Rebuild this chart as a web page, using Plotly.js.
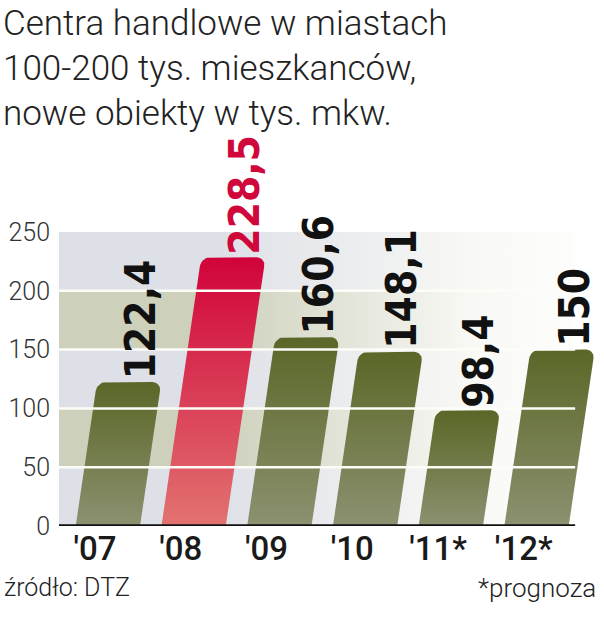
<!DOCTYPE html>
<html><head><meta charset="utf-8">
<script src="https://cdn.plot.ly/plotly-3.0.1.min.js"></script>
<style>html,body{margin:0;padding:0;background:#fff}</style>
</head><body><div id="chart" style="width:604px;height:640px"></div>
<script>
// ---- data ----
const years = ["'07", "'08", "'09", "'10", "'11*", "'12*"];
const values = [122.4, 228.5, 160.6, 148.1, 98.4, 150];
const valueLabels = ["122,4", "228,5", "160,6", "148,1", "98,4", "150"];
const highlighted = [false, true, false, false, false, false];
const yTicks = [0, 50, 100, 150, 200, 250];
const titleLines = ["Centra handlowe w miastach", "100-200 tys. mieszkanców,", "nowe obiekty w tys. mkw."];
const sourceText = "źródło: DTZ";
const noteText = "*prognoza";

// ---- layout constants ----
const W = 604, H = 640;
const M = {l: 59, r: 4, t: 232, b: 114};
const plotW = W - M.l - M.r, plotH = H - M.t - M.b;
const plotBottom = M.t + plotH;
const xRange = [-0.42, 5.89];
const bgEnd = 5.60;
const pxPerX = plotW / (xRange[1] - xRange[0]);
const pxPerY = plotH / 250;
const BAR_OFFSET = 0.15, BAR_W = 0.75;
const SKEW = 0.148 * pxPerY / pxPerX;   // x-units per value unit
const RADIUS = 9;
const LABEL_DX = 11 / pxPerX;
const px2paperX = px => (px - M.l) / plotW;
const px2paperY = py => (plotBottom - py) / plotH;

const GREEN = {top: '#5a6727', bottom: '#8c9170'};
const RED = {top: '#d1033a', bottom: '#e27370'};
const BAND = ['#dde0e7', '#cdd0bb'];
const LIGHT_FONT = {family: 'Roboto', weight: 300, color: '#222'};

const traces = [];
// background bands
for (let j = 0; j < yTicks.length - 1; j++) {
  const c = BAND[j % 2];
  traces.push({
    type: 'scatter', mode: 'lines', line: {width: 0},
    x: [xRange[0], bgEnd, bgEnd, xRange[0], xRange[0]],
    y: [yTicks[j], yTicks[j], yTicks[j + 1], yTicks[j + 1], yTicks[j]],
    fill: 'toself',
    fillgradient: {type: 'horizontal', colorscale: [[0, c], [0.3, c], [0.8, '#f8f8f5'], [1, '#fdfdfc']]},
    hoverinfo: 'skip', showlegend: false
  });
}
// bars as skewed rounded polygons
function barShape(i, v) {
  const xc = i + BAR_OFFSET, half = BAR_W / 2;
  const rX = RADIUS / pxPerX, rY = RADIUS / pxPerY;
  const xs = [], ys = [];
  const pt = (dx, y) => { xs.push(xc + dx + y * SKEW); ys.push(y); };
  pt(-half, 0); pt(half, 0); pt(half, v - rY);
  for (let a = 0; a <= 90; a += 10) { const t = a * Math.PI / 180; pt(half - rX + rX * Math.cos(t), v - rY + rY * Math.sin(t)); }
  for (let a = 90; a <= 180; a += 10) { const t = a * Math.PI / 180; pt(-half + rX + rX * Math.cos(t), v - rY + rY * Math.sin(t)); }
  pt(-half, 0);
  return {xs, ys};
}
values.forEach((v, i) => {
  const s = barShape(i, v);
  const col = highlighted[i] ? RED : GREEN;
  traces.push({
    type: 'scatter', mode: 'lines', line: {width: 0},
    x: s.xs, y: s.ys, fill: 'toself',
    fillgradient: {type: 'vertical', colorscale: [[0, col.bottom], [1, col.top]]},
    name: years[i], hoverinfo: 'skip', showlegend: false
  });
});

const annotations = values.map((v, i) => ({
  x: i + BAR_OFFSET + v * SKEW + LABEL_DX, y: v, xref: 'x', yref: 'y',
  text: valueLabels[i], showarrow: false, textangle: -90,
  xanchor: 'center', yanchor: 'bottom', yshift: 2, borderpad: 0,
  font: {family: 'DejaVu Sans Condensed, sans-serif', weight: 'bold', size: 42,
         color: highlighted[i] ? '#d0073b' : '#111'}
}));
// title lines
const titleCenters = [23, 69, 113];
titleLines.forEach((t, k) => annotations.push({
  xref: 'paper', yref: 'paper', x: px2paperX(1), y: px2paperY(titleCenters[k]),
  xanchor: 'left', yanchor: 'middle', showarrow: false, text: t,
  font: Object.assign({size: 35}, LIGHT_FONT)
}));
annotations.push({
  xref: 'paper', yref: 'paper', x: px2paperX(2), y: px2paperY(587),
  xanchor: 'left', yanchor: 'middle', showarrow: false, text: sourceText,
  font: Object.assign({size: 25}, LIGHT_FONT)
});
annotations.push({
  xref: 'paper', yref: 'paper', x: px2paperX(598), y: px2paperY(588),
  xanchor: 'right', yanchor: 'middle', showarrow: false, text: noteText,
  font: Object.assign({size: 26}, LIGHT_FONT)
});

const shapes = yTicks.filter(t => t > 0 && t < 250).map(t => ({
  type: 'line', xref: 'x', yref: 'y', x0: xRange[0], x1: bgEnd, y0: t, y1: t,
  line: {color: '#fdfdf8', width: 2.5}, layer: 'above'
}));
shapes.push({type: 'line', xref: 'x', yref: 'y', x0: xRange[0], x1: bgEnd, y0: 0, y1: 0,
  line: {color: '#111', width: 3.5}, layer: 'above'});

const layout = {
  width: W, height: H, margin: M,
  paper_bgcolor: '#fff', plot_bgcolor: 'rgba(0,0,0,0)',
  xaxis: {range: xRange, tickvals: years.map((_, i) => i), ticktext: years,
          showgrid: false, zeroline: false, showline: false, ticks: '',
          tickfont: {family: 'Roboto', weight: 500, size: 33, color: '#1a1a1a'}, fixedrange: true},
  yaxis: {range: [0, 250], tickvals: yTicks, ticktext: yTicks.map(String),
          showgrid: false, zeroline: false, showline: false, ticks: '',
          ticklabelstandoff: 8,
          tickfont: {family: 'Roboto', weight: 300, size: 25, color: '#333'}, fixedrange: true},
  shapes, annotations, showlegend: false
};
Plotly.newPlot('chart', traces, layout, {displayModeBar: false, staticPlot: true});
</script></body></html>
